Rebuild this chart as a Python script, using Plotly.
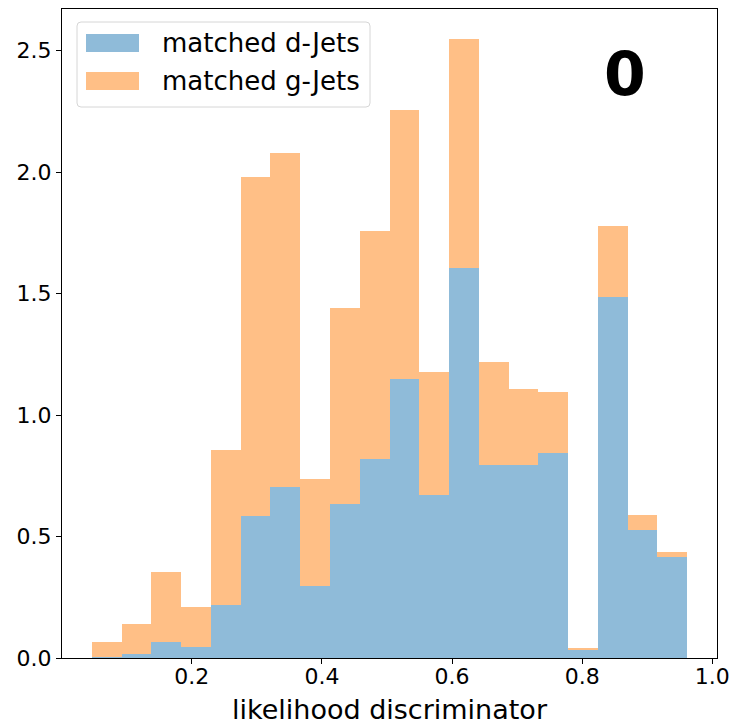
import numpy as np
import plotly.graph_objects as go

# ---- data ----
x_min = 0.0463
x_max = 0.9614
n_bins = 20
d_jets = [0.005, 0.018, 0.066, 0.045, 0.219, 0.583, 0.704, 0.298, 0.635, 0.821,
          1.147, 0.671, 1.607, 0.793, 0.793, 0.844, 0.031, 1.487, 0.527, 0.414]
g_jets = [0.061, 0.122, 0.290, 0.164, 0.637, 1.396, 1.375, 0.440, 0.806, 0.937,
          1.111, 0.507, 0.942, 0.424, 0.315, 0.251, 0.011, 0.293, 0.060, 0.022]
series_names = ["matched d-Jets", "matched g-Jets"]
x_ticks = [0.2, 0.4, 0.6, 0.8, 1.0]
y_ticks = [0.0, 0.5, 1.0, 1.5, 2.0, 2.5]
x_title = "likelihood discriminator"
panel_label = "0"

edges = np.linspace(x_min, x_max, n_bins + 1)
centers = (edges[:-1] + edges[1:]) / 2
widths = np.diff(edges)

BLUE = "#8fbbd9"
ORANGE = "#ffbf86"
FONT = "DejaVu Sans"

W, H = 732, 725
L, R, T, B = 62, 15, 9, 67
PW, PH = W - L - R, H - T - B


def px(x):
    return (x - L) / PW


def py(y):
    return (H - B - y) / PH


fig = go.Figure()
fig.add_trace(go.Bar(x=centers, y=d_jets, width=widths, name=series_names[0],
                     marker=dict(color=BLUE, line=dict(width=0))))
fig.add_trace(go.Bar(x=centers, y=g_jets, width=widths, name=series_names[1],
                     marker=dict(color=ORANGE, line=dict(width=0))))

# manual matplotlib-like legend
bx0, bx1, by0, by1 = 77, 370, 22, 107
r = 4
path = (f"M {px(bx0 + r)},{py(by0)} L {px(bx1 - r)},{py(by0)} "
        f"Q {px(bx1)},{py(by0)} {px(bx1)},{py(by0 + r)} "
        f"L {px(bx1)},{py(by1 - r)} Q {px(bx1)},{py(by1)} {px(bx1 - r)},{py(by1)} "
        f"L {px(bx0 + r)},{py(by1)} Q {px(bx0)},{py(by1)} {px(bx0)},{py(by1 - r)} "
        f"L {px(bx0)},{py(by0 + r)} Q {px(bx0)},{py(by0)} {px(bx0 + r)},{py(by0)} Z")
shapes = [dict(type="path", xref="paper", yref="paper", path=path,
               fillcolor="rgba(255,255,255,0.8)", line=dict(color="#d6d6d6", width=1))]
annotations = []
for i, (name, col) in enumerate(zip(series_names, [BLUE, ORANGE])):
    yc = 43 + i * 38
    shapes.append(dict(type="rect", xref="paper", yref="paper",
                       x0=px(86), x1=px(139), y0=py(yc - 9), y1=py(yc + 9),
                       fillcolor=col, line=dict(width=0)))
    annotations.append(dict(xref="paper", yref="paper", x=px(160), y=py(yc),
                            text=name, showarrow=False, xanchor="left", yanchor="middle",
                            font=dict(family=FONT, size=26, color="black")))

annotations.append(dict(xref="paper", yref="paper", x=px(625), y=py(74),
                        text=f"<b>{panel_label}</b>", showarrow=False,
                        xanchor="center", yanchor="middle",
                        font=dict(family=FONT, size=60, color="black")))

axis_common = dict(showline=True, linecolor="black", linewidth=1, mirror=True,
                   ticks="outside", ticklen=5, tickwidth=1, tickcolor="black",
                   showgrid=False, zeroline=False, automargin=False,
                   tickfont=dict(family=FONT, size=22, color="black"))

fig.update_layout(
    width=W, height=H,
    margin=dict(l=L, r=R, t=T, b=B, autoexpand=False),
    barmode="stack", bargap=0,
    showlegend=False,
    plot_bgcolor="white", paper_bgcolor="white",
    xaxis=dict(range=[0.0005, 1.0072], tickvals=x_ticks, tickformat=".1f",
               ticklabelstandoff=-6,
               title=dict(text=x_title, standoff=11,
                          font=dict(family=FONT, size=27, color="black")),
               **axis_common),
    yaxis=dict(range=[0, 2.672], tickvals=y_ticks, tickformat=".1f", **axis_common),
    shapes=shapes,
    annotations=annotations,
)

fig.write_html("out.html")
